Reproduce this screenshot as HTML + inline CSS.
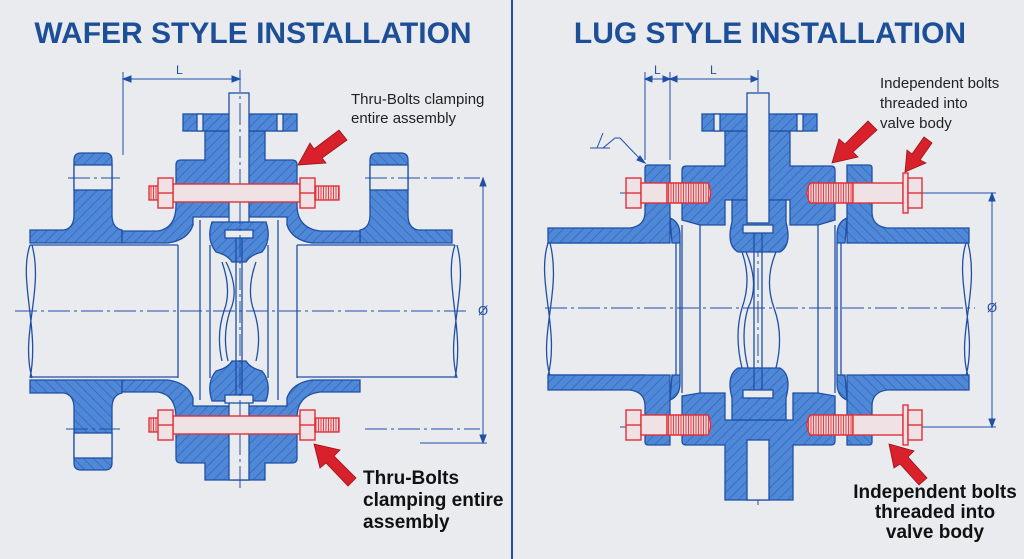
<!DOCTYPE html>
<html><head><meta charset="utf-8"><style>
html,body{margin:0;padding:0;background:#e9ebee;width:1024px;height:559px;overflow:hidden;}
svg{display:block}
text{font-family:"Liberation Sans",Arial,sans-serif}
</style></head><body>
<svg width="1024" height="559" viewBox="0 0 1024 559" xmlns="http://www.w3.org/2000/svg">
<defs>
<pattern id="h" patternUnits="userSpaceOnUse" width="7" height="7" patternTransform="rotate(45)">
<rect width="7" height="7" fill="#4f88d6"/><line x1="0" y1="0" x2="0" y2="7" stroke="#2b5fb4" stroke-width="1.2"/>
</pattern>
<pattern id="t" patternUnits="userSpaceOnUse" width="2.5" height="10">
<rect width="2.5" height="10" fill="#f3d6d8"/><line x1="1" y1="0" x2="1" y2="10" stroke="#e0303a" stroke-width="0.9"/>
</pattern>
</defs>
<rect width="1024" height="559" fill="#e9ebee"/>
<line x1="512" y1="0" x2="512" y2="559" stroke="#1f4fa6" stroke-width="2"/>
<text x="253" y="43" font-size="30" font-weight="bold" fill="#1d4f98" text-anchor="middle">WAFER STYLE INSTALLATION</text>
<text x="770" y="43" font-size="30" font-weight="bold" fill="#1d4f98" text-anchor="middle">LUG STYLE INSTALLATION</text>

<g stroke="#1f4fa6" stroke-width="1.3">
<path d="M30,245 H178 M297,245 H455 M30,377 H178 M297,377 H455" fill="none"/>
<path d="M30,245 C18,280 40,330 30,378 M32,245 C44,290 20,335 32,378" fill="none"/>
<path d="M455,245 C443,280 465,330 455,378 M457,245 C469,290 445,335 457,378" fill="none"/>
<g id="LF">
<path d="M74,160 Q74,153 81,153 H105 Q112,153 112,160 V215 Q112,228 122,230 V243 H30 V230 H64 Q74,228 74,215 Z" fill="url(#h)"/>
<rect x="74" y="165" width="38" height="25" fill="#e9ebee"/>
</g>
<use href="#LF" transform="translate(0,623) scale(1,-1)"/>
<use href="#LF" transform="translate(482,0) scale(-1,1)"/>
<use href="#LF" transform="translate(482,623) scale(-1,1)"/>
<path d="M176,165 Q176,160 181,160 H205 V131 H265 V160 H292 Q297,160 297,165 V205 Q297,228 320,231 H360 V243 H312 Q292,240 287,225 V217 H193 V225 Q188,240 168,243 H122 V231 H158 Q176,228 176,205 Z" fill="url(#h)"/>
<path d="M176,458 Q176,463 181,463 H205 V480 H265 V463 H292 Q297,463 297,458 V418 Q297,395 320,392 H360 V380 H312 Q292,383 287,398 V406 H193 V398 Q188,383 168,380 H122 V392 H158 Q176,395 176,418 Z" fill="url(#h)"/>
<rect x="183" y="114" width="114" height="17" fill="url(#h)"/>
<rect x="197" y="114" width="6" height="17" fill="#e9ebee"/><rect x="277" y="114" width="6" height="17" fill="#e9ebee"/>
<rect x="229" y="93" width="20" height="135" fill="#e9ebee"/>
<rect x="229" y="400" width="20" height="80" fill="#e9ebee"/>
<path d="M212,222 H266 Q272,240 262,252 Q250,255 246,262 H232 Q228,255 216,252 Q206,240 212,222 Z" fill="url(#h)"/>
<path d="M212,401 H266 Q272,383 262,371 Q250,368 246,361 H232 Q228,368 216,371 Q206,383 212,401 Z" fill="url(#h)"/>
<rect x="225" y="230" width="28" height="8" fill="#e9ebee"/><rect x="225" y="395" width="28" height="8" fill="#e9ebee"/>
<path d="M178,245 V378 M200,220 V400 M210,245 V378 M268,245 V378 M278,220 V400 M297,245 V378 M236,238 V395 M242,238 V395" fill="none"/>
<path d="M222,262 Q232,290 224,311 Q216,335 222,361 M256,262 Q246,290 254,311 Q262,335 256,361 M226,262 Q240,290 230,311 Q222,335 228,361" fill="none"/>
</g>
<g stroke="#1f4fa6" stroke-width="1" fill="none" stroke-dasharray="22,4,3,4">
<line x1="15" y1="311" x2="470" y2="311"/><line x1="240" y1="70" x2="240" y2="490"/>
<line x1="68" y1="178" x2="120" y2="178"/><line x1="365" y1="178" x2="480" y2="178"/>
<line x1="66" y1="429" x2="120" y2="429"/><line x1="365" y1="429" x2="480" y2="429"/>
<line x1="545" y1="308" x2="975" y2="308"/><line x1="758" y1="70" x2="758" y2="505"/>
<line x1="620" y1="193" x2="930" y2="193"/><line x1="620" y1="427" x2="930" y2="427"/>
</g>
<g stroke="#1f4fa6" stroke-width="1" fill="#1f4fa6">
<line x1="123" y1="72" x2="123" y2="155" /><line x1="123" y1="79" x2="240" y2="79"/>
<path d="M123,79 l8,-3 v6z M240,79 l-8,-3 v6z"/>
<line x1="483" y1="178" x2="483" y2="443"/><path d="M483,178 l-3,8 h6z M483,443 l-3,-8 h6z"/>
<line x1="420" y1="443" x2="487" y2="443"/>
<line x1="645" y1="72" x2="645" y2="160"/><line x1="670" y1="72" x2="670" y2="160"/>
<line x1="645" y1="79" x2="758" y2="79"/>
<path d="M645,79 l7,-3 v6z M670,79 l-7,-3 v6z M670,79 l7,-3 v6z M758,79 l-7,-3 v6z"/>
<line x1="992" y1="193" x2="992" y2="427"/><path d="M992,193 l-3,8 h6z M992,427 l-3,-8 h6z"/>
<line x1="930" y1="193" x2="996" y2="193"/><line x1="930" y1="427" x2="996" y2="427"/>
<path d="M590,148 H610 M597,148 L603,133 M603,148 L615,138 L620,138 L642,161" fill="none"/>
<path d="M645,163 l-8,-3 l3,-4z"/>
</g>
<g fill="#1f4fa6" font-size="12">
<text x="176" y="74">L</text><text x="654" y="74">L</text><text x="710" y="74">L</text>
<text x="478" y="315" font-size="13">Ø</text><text x="987" y="312" font-size="13">Ø</text>
</g>

<g stroke="#1f4fa6" stroke-width="1.3">
<path d="M548,243 H645 M548,375 H645 M870,243 H968 M870,375 H968" fill="none"/>
<path d="M548,243 C536,280 560,330 548,376 M550,243 C562,290 538,335 550,376" fill="none"/>
<path d="M966,243 C954,280 978,330 966,376 M968,243 C980,290 956,335 968,376" fill="none"/>
<g id="RF">
<path d="M645,168 Q645,165 648,165 H670 V243 H548 V228 H630 Q645,226 645,212 Z" fill="url(#h)"/>
<path d="M645,442 Q645,445 648,445 H670 V375 H548 V390 H630 Q645,392 645,406 Z" fill="url(#h)"/>
<path d="M670,218 Q680,222 680,235 V243 H672 Z M670,400 Q680,396 680,383 V375 H672 Z" fill="url(#h)"/>
<path d="M676,243 V375 M680,243 V375" fill="none"/>
</g>
<use href="#RF" transform="translate(1517,0) scale(-1,1)"/>
<path d="M682,170 Q682,166 686,166 H725 V131 H790 V166 H831 Q835,166 835,170 V220 L818,225 H790 V200 H725 V225 H700 L682,220 Z" fill="url(#h)"/>
<path d="M682,396 L700,393 H725 V420 H793 V393 H818 L835,396 V441 Q835,445 831,445 H793 V500 H725 V445 H686 Q682,445 682,441 Z" fill="url(#h)"/>
<rect x="702" y="114" width="115" height="17" fill="url(#h)"/>
<rect x="714" y="114" width="6" height="17" fill="#e9ebee"/><rect x="797" y="114" width="6" height="17" fill="#e9ebee"/>
<path d="M732,200 H786 V222 Q792,245 780,252 H738 Q726,245 732,222 Z" fill="url(#h)"/>
<path d="M732,420 H786 V398 Q792,375 780,368 H738 Q726,375 732,398 Z" fill="url(#h)"/>
<rect x="747" y="93" width="22" height="130" fill="#e9ebee"/>
<rect x="743" y="225" width="30" height="8" fill="#e9ebee"/><rect x="743" y="390" width="30" height="8" fill="#e9ebee"/>
<rect x="747" y="440" width="22" height="60" fill="#e9ebee"/>
<path d="M682,225 V393 M700,225 V393 M818,225 V393 M835,225 V393 M754,233 V390 M762,233 V390" fill="none"/>
<path d="M742,252 Q752,280 742,308 Q734,335 742,368 M776,252 Q764,280 774,308 Q784,335 776,368 M746,252 Q760,285 748,308 Q740,335 748,368" fill="none"/>
</g>

<g stroke="#e0303a" stroke-width="1.4" fill="#f0e2e4">
<g id="WB">
<rect x="173" y="184" width="127" height="18"/>
<rect x="149" y="186" width="10" height="14" fill="url(#t)"/>
<rect x="158" y="178" width="15" height="30"/><line x1="158" y1="193" x2="173" y2="193"/>
<rect x="300" y="178" width="15" height="30"/><line x1="300" y1="193" x2="315" y2="193"/>
<rect x="315" y="186" width="24" height="14" fill="url(#t)"/>
</g>
<use href="#WB" transform="translate(0,232)"/>
<g id="LB">
<rect x="626" y="178" width="15" height="30"/><line x1="626" y1="193" x2="641" y2="193"/>
<rect x="641" y="183" width="26" height="20"/>
<path d="M667,183 H708 Q713,193 708,203 H667 Z" fill="url(#t)"/>
<path d="M810,183 H853 V203 H810 Q804,193 810,183 Z" fill="url(#t)"/>
<rect x="853" y="183" width="50" height="20"/>
<rect x="903" y="173" width="5" height="40"/>
<rect x="908" y="178" width="14" height="30"/><line x1="908" y1="193" x2="922" y2="193"/>
</g>
<use href="#LB" transform="translate(0,232)"/>
</g>

<g fill="#d8212b" stroke="#9b1219" stroke-width="0.8">
<path d="M298,165 L310,143 L314,149 L339,130 L347,140 L322,158 L326,163 Z"/>
<path d="M314,444 L340,450 L334,456 L356,478 L348,486 L326,463 L320,468 Z"/>
<path d="M832,163 L839,139 L845,144 L868,121 L877,130 L853,152 L858,157 Z"/>
<path d="M905,172 L907,150 L912,154 L924,137 L932,143 L920,160 L926,163 Z"/>
<path d="M889,444 L914,451 L908,457 L927,478 L919,485 L900,464 L894,468 Z"/>
</g>

<g fill="#222" font-size="15">
<text x="351" y="104">Thru-Bolts clamping</text>
<text x="351" y="123">entire assembly</text>
<text x="880" y="88">Independent bolts</text>
<text x="880" y="108">threaded into</text>
<text x="880" y="128">valve body</text>
</g>
<g fill="#111" font-size="19" font-weight="bold">
<text x="363" y="484">Thru-Bolts</text>
<text x="363" y="506">clamping entire</text>
<text x="363" y="528">assembly</text>
<text x="935" y="498" text-anchor="middle">Independent bolts</text>
<text x="935" y="518" text-anchor="middle">threaded into</text>
<text x="935" y="538" text-anchor="middle">valve body</text>
</g>
</svg>
</body></html>
